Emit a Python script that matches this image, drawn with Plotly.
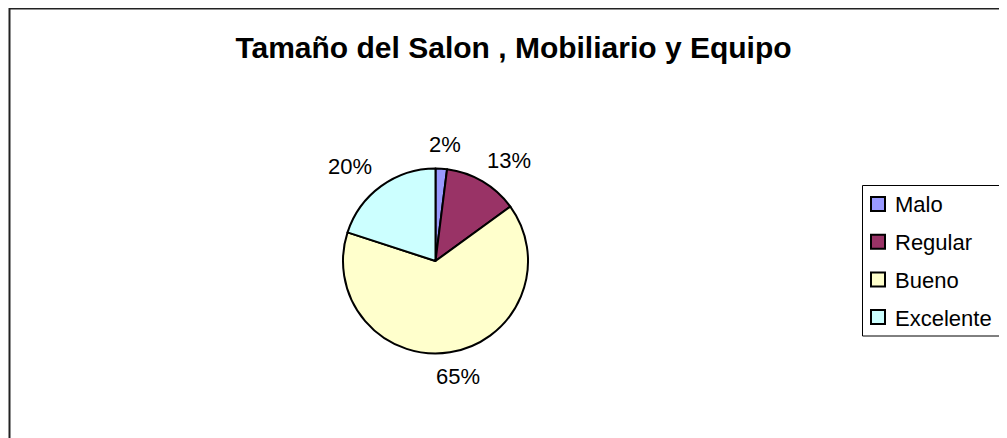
import numpy as np
import plotly.graph_objects as go

categories = ["Malo", "Regular", "Bueno", "Excelente"]
values = [2, 13, 65, 20]
colors = ["#9999FF", "#993366", "#FFFFCC", "#CCFFFF"]
title_text = "Tamaño del Salon , Mobiliario y Equipo"

W, H = 1007, 438
FONT = "Liberation Sans, Arial, sans-serif"
OX, OY = 8, 8  # page body margin offset (screen -> figure pixels)


def fx(sx):
    return (sx - OX) / W


def fy(sy):
    return 1 - (sy - OY) / H


# pie geometry in screen pixels
cx, cy, r = 435.5, 261, 92.5

fig = go.Figure(
    go.Pie(
        labels=categories,
        values=values,
        marker=dict(colors=colors, line=dict(color="black", width=2)),
        sort=False,
        direction="clockwise",
        rotation=0,
        textinfo="none",
        domain=dict(x=[fx(cx - r), fx(cx + r)], y=[fy(cy + r), fy(cy - r)]),
        showlegend=False,
        hoverinfo="label+percent",
    )
)

annotations = []
# data labels outside the slices, placed at each slice's mid-angle
total = float(sum(values))
starts = np.cumsum([0] + values[:-1])
R_lab, hw, hh = 105, 40, 12
for v, s in zip(values, starts):
    th = (s + v / 2.0) / total * 2 * np.pi
    sx = cx + R_lab * np.sin(th) + hw * np.sin(th)
    sy = cy - R_lab * np.cos(th) - hh * np.cos(th)
    annotations.append(
        dict(
            x=fx(sx), y=fy(sy), xref="paper", yref="paper",
            text=f"{round(v / total * 100)}%", showarrow=False,
            xanchor="center", yanchor="middle",
            font=dict(family=FONT, size=22, color="black"),
        )
    )

shapes = [
    # chart frame
    dict(type="rect", xref="paper", yref="paper",
         x0=fx(9.5), x1=1.02, y0=-0.05, y1=fy(8.5),
         line=dict(color="#222222", width=2),
         fillcolor="rgba(0,0,0,0)", layer="below"),
    # legend box
    dict(type="rect", xref="paper", yref="paper",
         x0=fx(862.5), x1=1.02, y0=fy(336), y1=fy(185.5),
         line=dict(color="black", width=1),
         fillcolor="white", layer="below"),
]

# legend entries
row0, dy = 204, 37.7
for i, (lab, col) in enumerate(zip(categories, colors)):
    yc = row0 + i * dy
    shapes.append(dict(type="rect", xref="paper", yref="paper",
                       x0=fx(871), x1=fx(885), y0=fy(yc + 7), y1=fy(yc - 7),
                       line=dict(color="black", width=2), fillcolor=col))
    annotations.append(dict(x=fx(893), y=fy(yc + 1), xref="paper", yref="paper",
                            text=lab, showarrow=False, xanchor="left", yanchor="middle",
                            font=dict(family=FONT, size=22, color="black")))

fig.update_layout(
    width=W,
    height=H,
    margin=dict(l=0, r=0, t=0, b=0),
    paper_bgcolor="white",
    plot_bgcolor="white",
    title=dict(
        text="<b>" + title_text + "</b>",
        x=fx(513.5), xanchor="center", xref="paper",
        y=fy(47), yanchor="middle", yref="container",
        font=dict(family=FONT, size=30, color="black"),
    ),
    showlegend=False,
    annotations=annotations,
    shapes=shapes,
)

fig.write_html("out.html")
